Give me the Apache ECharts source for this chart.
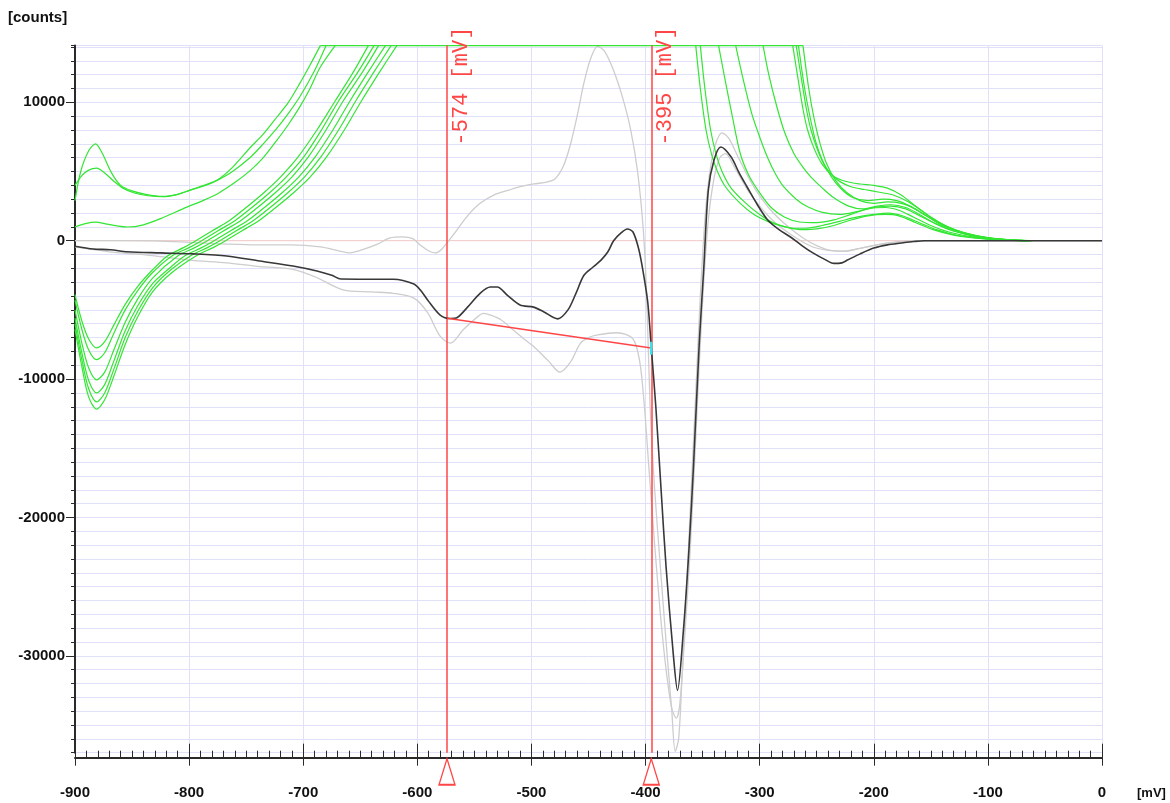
<!DOCTYPE html>
<html>
<head>
<meta charset="utf-8">
<title>counts vs mV</title>
<script src="https://cdn.jsdelivr.net/npm/echarts@6/dist/echarts.min.js"></script>
<style>
  html, body { margin: 0; padding: 0; background: #ffffff; }
  #myChart { width: 1170px; height: 803px; }
</style>
</head>
<body>
<div id="myChart"></div>
<script>
// ---- data: [mV, counts] ----
var zeroLine = [[-900, 0], [0, 0]];

var blackCurve = [[-900,-400],[-884,-600],[-869,-650],[-854,-800],[-825,-880],[-796,-950],[-767,-1100],[-738,-1470],
  [-709,-1830],[-688,-2190],[-675,-2500],[-667,-2770],[-645,-2780],[-621,-2780],[-603,-3130],[-597,-3600],[-591,-4280],
  [-580,-5370],[-571,-5620],[-565,-5550],[-556,-4800],[-545,-3800],[-536,-3350],[-530,-3350],[-521,-3950],[-510,-4650],
  [-498,-4800],[-489,-5150],[-477,-5650],[-468,-5000],[-461,-3800],[-454,-2500],[-446,-1900],[-439,-1400],[-433,-800],
  [-428,0],[-421,600],[-416,850],[-411,630],[-406,-600],[-402,-2300],[-398,-4500],[-395,-7700],[-391,-12000],[-386,-18500],
  [-382,-23600],[-376,-29600],[-372,-32500],[-367,-28350],[-362,-22350],[-358,-16300],[-353,-7500],[-349,-2000],[-345,3650],
  [-340,5830],[-334,6770],[-325,6050],[-318,4900],[-311,3880],[-302,2600],[-293,1500],[-283,800],[-273,270],[-263,-350],
  [-253,-900],[-243,-1350],[-235,-1640],[-228,-1600],[-223,-1400],[-212,-950],[-200,-530],[-188,-300],[-176,-170],
  [-165,-60],[-156,0],[0,0]];

var grayUpper = [[-900,0],[-860,0],[-825,-30],[-790,-150],[-767,-240],[-740,-300],[-710,-300],[-685,-450],[-668,-750],
  [-659,-880],[-648,-650],[-635,-250],[-624,200],[-613,280],[-604,150],[-597,-350],[-589,-780],[-584,-880],[-579,-650],
  [-574,-150],[-566,700],[-556,1800],[-545,2700],[-533,3300],[-520,3650],[-510,3900],[-498,4100],[-486,4250],[-479,4500],
  [-472,5400],[-466,6900],[-460,9000],[-454,11400],[-448,13200],[-442,14050],[-436,13700],[-428,12300],[-420,10300],
  [-413,8000],[-407,5000],[-402,800],[-399,-4000],[-396,-12000],[-392,-18000],[-387,-23600],[-382,-29000],[-377,-34000],
  [-374,-36900],[-371,-36000],[-368,-31500],[-364,-25000],[-360,-18000],[-356,-11000],[-352,-4000],[-348,1500],[-344,4800],
  [-339,6900],[-333,7800],[-327,7400],[-318,5900],[-308,4300],[-298,3000],[-288,2000],[-275,1000],[-262,200],[-250,-350],
  [-238,-700],[-225,-750],[-212,-550],[-198,-300],[-182,-100],[-165,-20],[-150,0],[0,0]];

var grayLower = [[-900,-450],[-870,-800],[-840,-1000],[-800,-1400],[-767,-1600],[-740,-1850],[-710,-2050],[-690,-2600],
  [-665,-3550],[-640,-3700],[-621,-3800],[-603,-4150],[-591,-5200],[-580,-6900],[-571,-7400],[-560,-6450],[-550,-5700],
  [-542,-5250],[-535,-5400],[-527,-5700],[-516,-6450],[-505,-7200],[-498,-7650],[-485,-8700],[-475,-9500],[-466,-8800],
  [-457,-7400],[-450,-7000],[-442,-6800],[-425,-6650],[-411,-7100],[-405,-8800],[-401,-12000],[-397,-16500],[-392,-22000],
  [-387,-27000],[-382,-31000],[-377,-33800],[-373,-34500],[-370,-33500],[-366,-29000],[-361,-22500],[-357,-16000],
  [-353,-9000],[-349,-3000],[-345,1500],[-340,4500],[-335,6000],[-330,6300],[-322,5300],[-310,3600],[-298,2300],
  [-285,1200],[-270,300],[-255,-400],[-240,-700],[-228,-750],[-215,-600],[-200,-350],[-185,-150],[-165,-30],[-150,0],[0,0]];

// green scans: rising branches on the left (they leave the top of the window)
var greenRiseA = [[-900,2900],[-895,5000],[-888,6500],[-882,7000],[-876,6300],[-868,4900],[-860,4000],[-850,3600],[-838,3350],
  [-823,3200],[-810,3350],[-799,3660],[-787,4000],[-775,4400],[-762,5300],[-746,6770],[-735,7700],[-723,8940],[-713,10000],
  [-703,11370],[-694,12700],[-685,14100]];
var greenRiseB = [[-900,4000],[-894,4700],[-888,5100],[-881,5240],[-874,4900],[-866,4300],[-858,3800],[-848,3450],[-836,3250],
  [-823,3180],[-810,3350],[-799,3660],[-787,3950],[-775,4380],[-762,5000],[-746,6050],[-735,7000],[-723,8130],[-713,9200],
  [-703,10400],[-690,12300],[-680,14100]];
var greenRiseC = [[-900,1000],[-890,1250],[-882,1340],[-872,1200],[-862,1050],[-854,990],[-840,1150],[-825,1600],[-802,2430],
  [-788,2900],[-775,3400],[-760,4200],[-746,5100],[-735,6000],[-723,7270],[-713,8400],[-703,9670],[-694,11000],[-685,12550],
  [-672,14100]];
var greenRiseL1 = [[-900,-3900],[-894,-5800],[-888,-7100],[-881,-7750],[-874,-7300],[-866,-6100],[-856,-4600],[-845,-3300],
  [-832,-2100],[-819,-1100],[-805,-500],[-794,0],[-780,700],[-764,1500],[-750,2400],[-735,3430],[-720,4600],[-705,6000],
  [-688,8000],[-672,10100],[-656,12200],[-643,14100]];
var greenRiseL2 = [[-900,-4300],[-894,-6400],[-888,-7900],[-881,-8600],[-874,-8100],[-866,-6700],[-856,-5000],[-845,-3600],
  [-832,-2300],[-815,-1100],[-800,-500],[-789,0],[-775,700],[-759,1500],[-745,2400],[-730,3430],[-715,4600],[-700,6000],
  [-684,8000],[-669,10100],[-652,12200],[-638,14100]];
var greenRiseL3 = [[-900,-5000],[-894,-7400],[-888,-9200],[-881,-10050],[-874,-9500],[-866,-7900],[-856,-5900],[-845,-4200],
  [-832,-2700],[-810,-1100],[-795,-500],[-784,0],[-770,700],[-754,1500],[-740,2400],[-725,3430],[-710,4600],[-696,6000],
  [-680,8000],[-665,10100],[-648,12200],[-634,14100]];
var greenRiseL4 = [[-900,-5600],[-894,-8100],[-888,-10100],[-881,-11000],[-874,-10400],[-866,-8700],[-856,-6500],[-845,-4700],
  [-832,-3100],[-816,-1900],[-804,-1100],[-789,-500],[-778,0],[-764,700],[-748,1500],[-734,2400],[-719,3430],[-704,4600],
  [-690,6000],[-674,8000],[-659,10100],[-643,12200],[-628,14100]];
var greenRiseL5 = [[-900,-6000],[-894,-8600],[-888,-10700],[-881,-11650],[-874,-11000],[-866,-9300],[-856,-7000],[-845,-5100],
  [-832,-3400],[-816,-2100],[-799,-1100],[-784,-500],[-773,0],[-759,700],[-743,1500],[-729,2400],[-714,3430],[-699,4600],
  [-685,6000],[-669,8000],[-654,10100],[-638,12200],[-623,14100]];
var greenRiseL6 = [[-900,-6400],[-894,-9100],[-888,-11300],[-881,-12170],[-874,-11500],[-866,-9800],[-856,-7500],[-845,-5500],
  [-832,-3700],[-815,-2300],[-794,-1100],[-779,-500],[-768,0],[-754,700],[-738,1500],[-724,2400],[-709,3430],[-694,4600],
  [-680,6000],[-664,8000],[-649,10100],[-633,12200],[-618,14100]];

// the scans sit on the upper edge of the window in between
var greenTop = [[-685,14100],[-262,14100]];

// green scans: falling branches on the right
var greenFallR1 = [[-356,14100],[-352,11000],[-347,8000],[-342,6200],[-337,5000],[-330,3900],[-317,2700],[-305,1900],[-293,1400],
  [-280,1050],[-270,900],[-260,900],[-245,1100],[-230,1400],[-215,1700],[-200,1900],[-187,2000],[-175,1800],[-160,1300],
  [-145,800],[-130,450],[-110,200],[-90,70],[-65,0]];
var greenFallR2 = [[-352,14100],[-348,11000],[-343,8000],[-338,6200],[-333,5000],[-325,3800],[-312,2700],[-300,1900],[-288,1300],
  [-275,950],[-262,800],[-250,850],[-235,1100],[-220,1500],[-205,1800],[-190,1900],[-178,1800],[-163,1300],[-148,800],
  [-130,400],[-110,180],[-90,60],[-65,0]];
var greenFallR3 = [[-336,14100],[-330,11500],[-324,9000],[-317,6300],[-310,4800],[-302,3700],[-290,2400],[-278,1700],[-265,1350],
  [-250,1300],[-235,1500],[-220,1900],[-205,2300],[-190,2400],[-178,2200],[-165,1700],[-150,1100],[-135,650],[-115,300],
  [-95,100],[-70,0]];
var greenFallR4 = [[-321,14100],[-314,11500],[-307,9200],[-300,7500],[-293,6000],[-286,4800],[-279,3900],[-268,3000],[-258,2450],
  [-245,2050],[-230,1900],[-215,2100],[-200,2400],[-185,2500],[-172,2300],[-160,1800],[-145,1200],[-130,700],[-110,300],
  [-90,100],[-68,0]];
var greenFallR5 = [[-297,14100],[-292,12000],[-285,9700],[-278,7800],[-270,6300],[-262,5300],[-255,4600],[-245,3800],[-235,3100],
  [-222,2500],[-210,2300],[-197,2500],[-185,2600],[-172,2400],[-160,1900],[-145,1200],[-130,700],[-110,300],[-90,100],[-68,0]];
var greenFallR6 = [[-271,14100],[-266,11500],[-262,9500],[-258,8000],[-252,6600],[-245,5500],[-236,4700],[-225,4300],[-212,4100],
  [-200,4000],[-188,3800],[-176,3300],[-165,2600],[-152,1800],[-138,1100],[-120,550],[-100,220],[-80,60],[-62,0]];
var greenFallR7 = [[-268,14100],[-263,11500],[-259,9500],[-255,8000],[-249,6500],[-242,5300],[-232,4400],[-220,3900],[-208,3700],
  [-195,3500],[-183,3300],[-172,2900],[-160,2300],[-148,1600],[-135,1000],[-118,500],[-100,200],[-80,60],[-62,0]];
var greenFallR8 = [[-266,14100],[-261,11200],[-256,9000],[-251,7200],[-245,5800],[-237,4600],[-228,3700],[-218,3100],[-205,2900],
  [-192,3000],[-180,2900],[-168,2500],[-156,1900],[-143,1300],[-130,800],[-112,400],[-95,150],[-75,40],[-62,0]];
var greenFallR9 = [[-262,14100],[-257,11000],[-252,8700],[-247,7000],[-241,5500],[-233,4300],[-224,3500],[-212,2900],[-200,2700],
  [-188,2800],[-176,2700],[-164,2300],[-152,1700],[-140,1100],[-125,650],[-108,300],[-90,100],[-72,20],[-62,0]];

var greenRise = [greenRiseA, greenRiseB, greenRiseC, greenRiseL1, greenRiseL2, greenRiseL3, greenRiseL4, greenRiseL5, greenRiseL6];
var greenFall = [greenFallR1, greenFallR2, greenFallR3, greenFallR4, greenFallR5, greenFallR6, greenFallR7, greenFallR8, greenFallR9];

// cursors and the baseline drawn between them
var cursorPositions = [-574, -395];
var peakBaseline = [[-574, -5600], [-395, -7750]];
var cursorMark = [[-395, -7300], [-395, -8250]];

var yTickLabels = [-30000, -20000, -10000, 0, 10000];

// ---- chart ----
var myChart = echarts.init(document.getElementById('myChart'));
var GRID = '#e0e0f8';
var AXIS = '#2a2a2a';
var RED = '#ff4646';
var GREEN = '#33e633';
var labelFont = { fontFamily: 'Liberation Sans', fontWeight: 'bold', fontSize: 15, color: '#111' };

var series = [];
series.push({
  name: 'zero', type: 'line', data: zeroLine, symbol: 'none', silent: true, z: 1,
  lineStyle: { color: '#f6cdc6', width: 1 }
});
[grayUpper, grayLower].forEach(function (d) {
  series.push({
    type: 'line', data: d, symbol: 'none', smooth: 0.3, silent: true, z: 2,
    lineStyle: { color: '#cdcdcd', width: 1.3 }
  });
});
greenRise.concat([greenTop], greenFall).forEach(function (d) {
  series.push({
    type: 'line', data: d, symbol: 'none', smooth: 0.3, silent: true, z: 3,
    lineStyle: { color: GREEN, width: 1.2 }
  });
});
series.push({
  name: 'signal', type: 'line', data: blackCurve, symbol: 'none', smooth: 0.3, z: 5,
  lineStyle: { color: '#383838', width: 1.6 },
  markLine: {
    silent: true, symbol: 'none', animation: false,
    lineStyle: { color: RED, width: 1.5, type: 'solid' },
    label: {
      show: true, position: 'insideEndBottom', distance: [-19, 3],
      formatter: function (p) { return p.value + ' [mV]'; },
      fontFamily: 'Liberation Mono', fontSize: 22, color: RED
    },
    data: cursorPositions.map(function (v) { return { xAxis: v }; })
  }
});
series.push({
  name: 'baseline', type: 'line', data: peakBaseline, symbol: 'none', z: 6,
  lineStyle: { color: RED, width: 1.5 },
  markPoint: {
    symbol: 'triangle', symbolSize: [16, 26], symbolOffset: [0, 19], silent: true,
    itemStyle: { color: 'rgba(0,0,0,0)', borderColor: RED, borderWidth: 1.5 },
    label: { show: false },
    data: cursorPositions.map(function (v) { return { coord: [v, -37000] }; })
  }
});
series.push({
  name: 'mark', type: 'line', data: cursorMark, symbol: 'none', z: 7,
  lineStyle: { color: '#3fe0e8', width: 2.5 }
});

var option = {
  animation: false,
  backgroundColor: '#ffffff',
  grid: { left: 75, right: 68, top: 45.6, bottom: 50.3, containLabel: false },
  xAxis: [
    {
      type: 'value', min: -900, max: 0, interval: 100, offset: 5,
      axisLine: { show: true, onZero: false, lineStyle: { color: AXIS, width: 2 } },
      axisTick: { show: true, inside: true, length: 14, lineStyle: { color: AXIS, width: 1 } },
      minorTick: { show: true, splitNumber: 10, length: 7, lineStyle: { color: AXIS, width: 1 } },
      axisLabel: Object.assign({ margin: 28 }, labelFont),
      splitLine: { show: true, lineStyle: { color: GRID, width: 1 } }
    },
    {
      type: 'value', min: -900, max: 0, interval: 100, offset: 5, position: 'bottom',
      axisLine: { show: false, onZero: false },
      axisTick: { show: true, length: 8, lineStyle: { color: AXIS, width: 1 } },
      axisLabel: { show: false },
      splitLine: { show: false }
    }
  ],
  yAxis: [
    {
      type: 'value', min: -37000, max: 14100, interval: 1000, position: 'left',
      axisLine: { show: true, onZero: false, lineStyle: { color: AXIS, width: 2 } },
      axisTick: { show: true, length: 4, lineStyle: { color: AXIS, width: 1 } },
      axisLabel: Object.assign({
        margin: 10,
        formatter: function (v) { return yTickLabels.indexOf(v) >= 0 ? String(v) : ''; }
      }, labelFont),
      splitLine: { show: true, lineStyle: { color: GRID, width: 1 } }
    },
    {
      type: 'value', min: -37000, max: 14100, position: 'left',
      axisLine: { show: false, onZero: false },
      axisTick: { show: true, length: 9, customValues: yTickLabels, lineStyle: { color: AXIS, width: 1 } },
      axisLabel: { show: false },
      splitLine: { show: false }
    }
  ],
  graphic: [
    { type: 'text', left: 8, top: 10, style: { text: '[counts]', font: 'bold 15px "Liberation Sans"', fill: '#111' } },
    { type: 'text', left: 1137, top: 787, style: { text: '[mV]', font: 'bold 13px "Liberation Sans"', fill: '#111' } }
  ],
  series: series
};

option && myChart.setOption(option);
</script>
</body>
</html>
